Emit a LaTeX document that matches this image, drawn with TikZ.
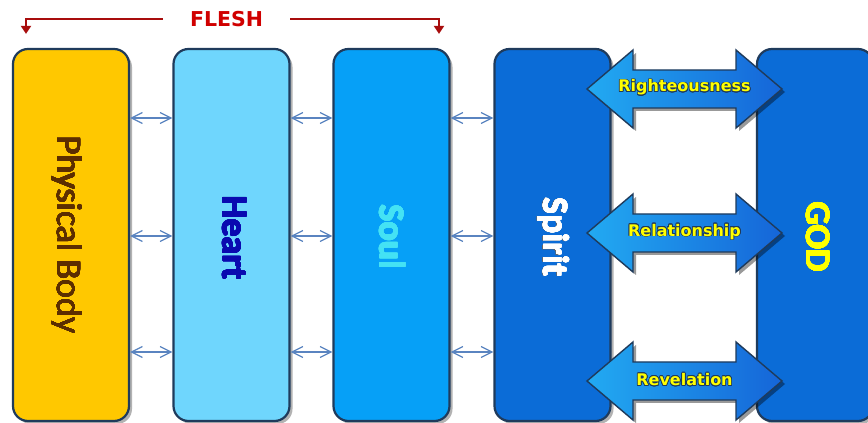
\documentclass[tikz,border=0pt]{standalone}
\usepackage{fontspec}
\setmainfont{Carlito}
\newfontfamily\wideface{DejaVu Sans}
\usepackage[copies]{contour}
\contourlength{0.7pt}
\usetikzlibrary{arrows.meta,shadows}
\definecolor{pbfill}{HTML}{FFC800}
\definecolor{pbtext}{HTML}{5C2E00}
\definecolor{heartfill}{HTML}{6FD6FD}
\definecolor{hearttext}{HTML}{0A0AB0}
\definecolor{soulfill}{HTML}{06A0F7}
\definecolor{soultext}{HTML}{44E2F4}
\definecolor{spiritfill}{HTML}{0B6CD7}
\definecolor{godtext}{HTML}{FFFF00}
\definecolor{edgec}{HTML}{1F3B5C}
\definecolor{linkc}{HTML}{5A84C0}
\definecolor{fleshred}{HTML}{D00000}
\definecolor{fleshline}{HTML}{A80D0D}
\definecolor{arrowleft}{HTML}{22AAF2}
\definecolor{arrowright}{HTML}{1565D8}
\definecolor{arrowtextc}{HTML}{FFFF00}
\tikzset{
  box/.style={draw=edgec, line width=2.2pt, rounded corners=15pt,
    minimum width=116pt, minimum height=372pt, inner sep=0pt,
    drop shadow={shadow xshift=3pt, shadow yshift=-3pt, fill=black!60, opacity=.5}},
  boxtext/.style={rotate=-90, font=\fontsize{36}{40}\selectfont, inner sep=0pt},
  boldtext/.style={rotate=-90, font=\fontsize{36}{40}\selectfont\bfseries, inner sep=0pt},
  link/.style={draw=linkc, line width=1.2pt,
    {Straight Barb[length=11pt,width=11pt]}-{Straight Barb[length=11pt,width=11pt]}},
  fleshlinestyle/.style={draw=fleshline, line width=2.8pt,
    -{Triangle[length=8pt,width=10pt]}},
  arrowtext/.style={font=\wideface\bfseries\fontsize{16}{19}\selectfont, text=arrowtextc, inner sep=0pt},
  pics/dblarrow/.style={code={
    \fill[black, opacity=.4] (-94.5,-3) -- (-48.5,36) -- (-48.5,16) -- (54.5,16) -- (54.5,36)
      -- (100.5,-3) -- (54.5,-42) -- (54.5,-22) -- (-48.5,-22) -- (-48.5,-42) -- cycle;
    \draw[edgec, line width=1.4pt, left color=arrowleft, right color=arrowright]
      (-97.5,0) -- (-51.5,39) -- (-51.5,19) -- (51.5,19) -- (51.5,39)
      -- (97.5,0) -- (51.5,-39) -- (51.5,-19) -- (-51.5,-19) -- (-51.5,-39) -- cycle;
  }}
}
\begin{document}
\begin{tikzpicture}[x=1pt,y=1pt]
\useasboundingbox (0,0) rectangle (868,423);
\fill[white] (0,0) rectangle (868,423);

% boxes
\node[box, fill=pbfill] (pb) at (71,188) {};
\node[box, fill=heartfill] (heart) at (231.5,188) {};
\node[box, fill=soulfill] (soul) at (391.5,188) {};
\node[box, fill=spiritfill] (spirit) at (552.5,188) {};
\node[box, fill=spiritfill] (god) at (815,188) {};

% box texts
\node[boxtext, text=pbtext] (pbt) at ([xshift=-4pt]pb.center) {\contourlength{0.35pt}\contour{pbtext}{Physical Body}};
\node[boldtext, text=hearttext] (heartt) at ([xshift=3pt,yshift=-3pt]heart.center) {\contourlength{0.4pt}\contour{hearttext}{Heart}};
\node[boldtext, text=soultext] (soult) at ([xshift=1pt,yshift=-2pt]soul.center) {\contourlength{0.3pt}\contour{soultext}{Soul}};
\node[boldtext, text=black!60] at ([xshift=-0.5pt,yshift=-2.5pt]spirit.center) {Spirit};
\node[boldtext, text=white] (spiritt) at ([xshift=1pt,yshift=-2pt]spirit.center) {\contourlength{0.3pt}\contour{white}{Spirit}};
\node[boldtext, text=godtext] (godt) at ([xshift=3pt,yshift=-2pt]god.center) {\contourlength{0.3pt}\contour{godtext}{GOD}};

% small links
\foreach \a/\b in {pb/heart, heart/soul, soul/spirit}{
  \draw[link] ([yshift=117pt]\a.east) -- ([yshift=117pt]\b.west);
  \draw[link] ([yshift=-1pt]\a.east) -- ([yshift=-1pt]\b.west);
  \draw[link] ([yshift=-117pt]\a.east) -- ([yshift=-117pt]\b.west);
}

% big double arrows
\pic at (684.5,334) {dblarrow};
\pic at (684.5,190) {dblarrow};
\pic at (684.5,42) {dblarrow};
\node[arrowtext] (righteous) at (684.5,335) {\contour{edgec}{Righteousness}};
\node[arrowtext] (relation) at (684.5,191) {\contour{edgec}{Relationship}};
\node[arrowtext] (revel) at (684.5,43) {\contour{edgec}{Revelation}};

% FLESH
\node[font=\wideface\bfseries\fontsize{20.5}{24}\selectfont, text=fleshred, minimum width=127pt, inner sep=0pt] (flesh) at (226.5,404) {FLESH};
\draw[fleshlinestyle] (flesh.west) -| ([xshift=-45pt,yshift=14pt]pb.north);
\draw[fleshlinestyle] (flesh.east) -| ([xshift=47.5pt,yshift=14pt]soul.north);
\end{tikzpicture}
\end{document}
